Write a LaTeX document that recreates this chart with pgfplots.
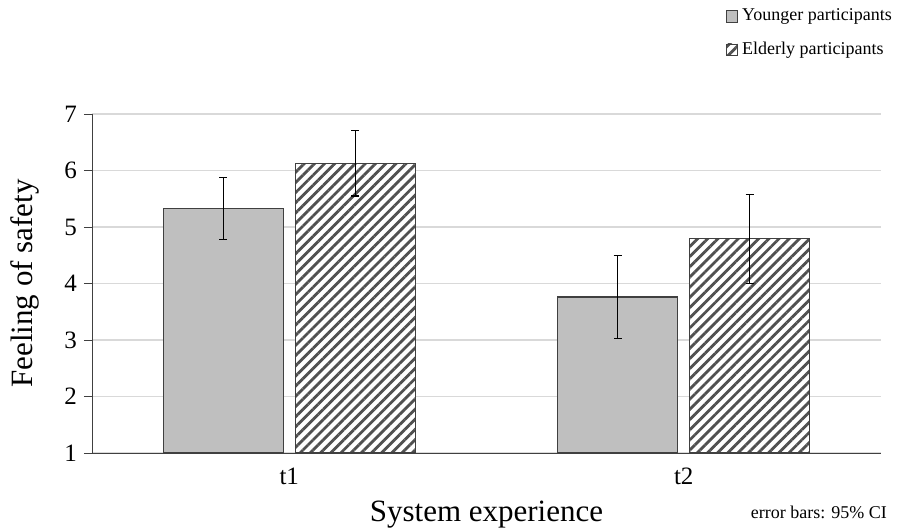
\documentclass[border=0pt]{standalone}
\usepackage{fontspec}
\setmainfont{Liberation Serif}
\usepackage{pgfplots}
\pgfplotsset{compat=1.18}
\usetikzlibrary{patterns.meta}
\definecolor{barg}{HTML}{BFBFBF}
\definecolor{edge}{HTML}{404040}
\definecolor{hatch}{HTML}{505050}
\definecolor{gridc}{HTML}{D9D9D9}
\begin{document}
\begin{tikzpicture}
\path[use as bounding box] (0pt,0pt) rectangle (456pt,264.5pt);
\begin{axis}[
  at={(46pt,38pt)}, anchor=south west,
  scale only axis, width=394.5pt, height=169.5pt,
  xmin=-0.5, xmax=1.5, ymin=1, ymax=7,
  ytick={1,2,3,4,5,6,7},
  xtick={0,1}, xticklabels={t1,t2},
  extra x ticks={-0.5,0.5,1.5}, extra x tick labels={},
  extra x tick style={major tick length=4pt, tick style={edge}, grid=none},
  axis x line*=bottom, axis y line*=left,
  x axis line style={-, edge},
  y axis line style={-, edge},
  tick align=outside,
  major tick length=4pt,
  xtick style={draw=none},
  ytick style={edge},
  ymajorgrids, grid style={gridc, line width=0.8pt},
  tick label style={font=\fontsize{12.5}{14}\selectfont},
  /pgf/number format/assume math mode=true,
  ybar, bar width=60pt,
  ylabel={Feeling of safety}, ylabel style={font=\fontsize{15.5}{17}\selectfont, at={(axis description cs:-0.085,0.5)}, anchor=center},
  xlabel={System experience}, xlabel style={font=\fontsize{15.5}{17}\selectfont, at={(axis description cs:0.5,-0.183)}, anchor=center},
  legend style={draw=none, fill=none, at={(axis description cs:1.027,1.335)}, anchor=north east,
    font=\fontsize{9}{11}\selectfont, row sep=5pt, legend cell align=left,
    /tikz/every even column/.append style={column sep=1pt}},
  legend image code/.code={\draw[#1, line width=0.4pt] (0pt,-2.8pt) rectangle (5.6pt,2.8pt);},
  clip=false,
]
\addplot[bar shift=-33pt, fill=barg, draw=edge, line width=0.6pt,
  error bars/.cd, y dir=both, y explicit, error bar style={black, line width=0.6pt}, error mark options={rotate=90, mark size=2pt, black, line width=0.6pt}]
  coordinates {(0,5.33) +- (0,0.55) (1,3.76) +- (0,0.73)};
\addplot[bar shift=33pt, draw=edge, line width=0.6pt, fill=white, postaction={pattern={Lines[angle=45,distance=3.6pt,line width=1.4pt]}, pattern color=hatch},
  error bars/.cd, y dir=both, y explicit, error bar style={black, line width=0.6pt}, error mark options={rotate=90, mark size=2pt, black, line width=0.6pt}]
  coordinates {(0,6.13) +- (0,0.58) (1,4.79) +- (0,0.79)};
\legend{Younger participants, Elderly participants}
\end{axis}
\node[anchor=base east, font=\fontsize{9}{11}\selectfont] at (447pt,5pt) {error bars: 95\% CI};
\end{tikzpicture}
\end{document}
